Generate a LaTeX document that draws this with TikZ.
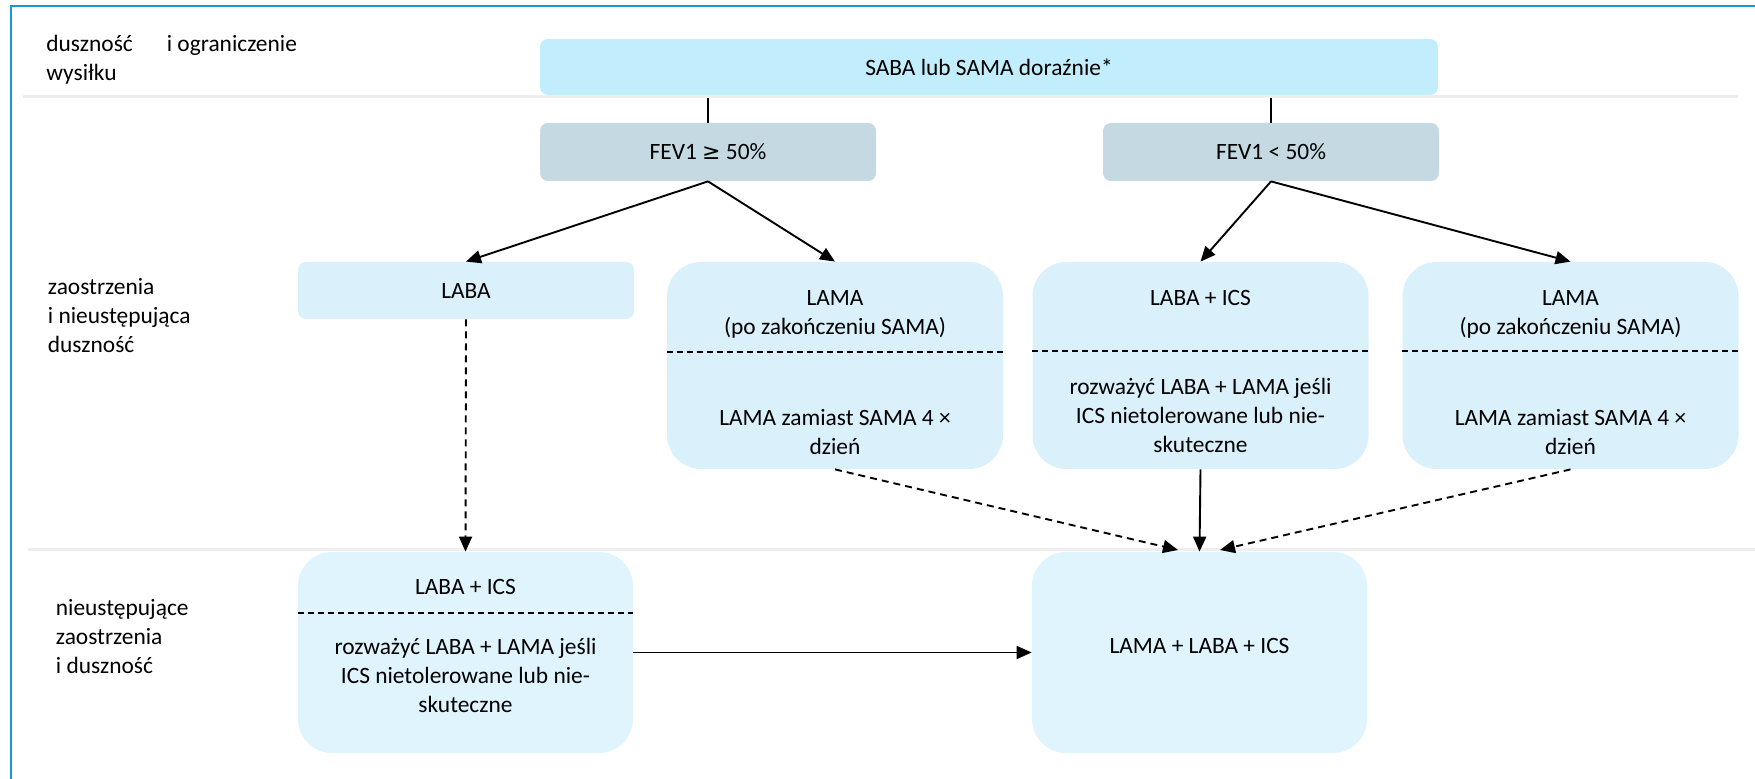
\documentclass[tikz,border=0pt]{standalone}
\usepackage{fontspec}
\setmainfont{Carlito}
\newfontfamily\symfont{DejaVu Sans}
\usetikzlibrary{arrows.meta}
\definecolor{framecol}{HTML}{1A98D0}
\definecolor{sepcol}{HTML}{EEEEEE}
\definecolor{topfill}{HTML}{C1EDFD}
\definecolor{fevfill}{HTML}{C4D9E1}
\definecolor{midfill}{HTML}{DAF0FB}
\definecolor{lowfill}{HTML}{DFF4FD}
\begin{document}
\begin{tikzpicture}[x=0.5pt,y=-0.5pt,
  font=\fontsize{11.7}{14.5}\selectfont,
  smallbox/.style={draw=none, rounded corners=4pt, inner sep=0pt},
  bigbox/.style={draw=none, rounded corners=17pt, inner sep=0pt,
    minimum width=168pt, minimum height=103.5pt, fill=midfill},
  lowbox/.style={draw=none, rounded corners=17pt, inner sep=0pt,
    minimum width=167.5pt, minimum height=100.5pt, fill=lowfill},
  txt/.style={inner sep=0pt, align=center},
  rowlabel/.style={inner sep=0pt, align=left, anchor=west},
  sep/.style={sepcol, line width=1.5pt},
  divider/.style={black, line width=1.1pt, dash pattern=on 3pt off 2pt},
  conn/.style={black, line width=0.8pt},
  arr/.style={black, line width=0.95pt, -{Triangle[length=7.5pt,width=6.5pt]}},
  darr/.style={arr, dash pattern=on 3.5pt off 2.5pt},
]
\useasboundingbox (0,0) rectangle (1755,779);

% outer frame (top and left edges)
\draw[framecol, line width=1.25pt] (11,779) -- (11,6) -- (1755,6);

% row labels
\node[rowlabel] (row1) at (46,60) {duszność\hspace{17pt}i ograniczenie\\wysiłku};
\node[rowlabel] (row2) at (47.5,316) {zaostrzenia\\i nieustępująca\\duszność};
\node[rowlabel] (row3) at (55.5,637) {nieustępujące\\zaostrzenia\\i duszność};

% top row
\node[smallbox, fill=topfill, minimum width=449pt, minimum height=28pt]
  (saba) at (989,67) {};
\node[txt] (saba-t) at (989,67) {SABA lub SAMA doraźnie*};

% FEV1 split
\node[smallbox, fill=fevfill, minimum width=168pt, minimum height=29pt]
  (fevA) at (708,152) {FEV1 {\symfont\fontsize{11}{13}\selectfont ≥} 50\%};
\node[smallbox, fill=fevfill, minimum width=168pt, minimum height=29pt]
  (fevB) at (1271,152) {FEV1 < 50\%};

\draw[conn] (saba.south -| fevA.north) -- (fevA.north);
\draw[conn] (saba.south -| fevB.north) -- (fevB.north);

% row separators
\draw[sep] (23,97) -- (1738,97);
\draw[sep] (28,550) -- (1755,550);

% middle row
\node[smallbox, fill=midfill, minimum width=168pt, minimum height=28.5pt]
  (laba) at (466,290.5) {LABA};

\node[bigbox] (lamaA) at (835,365.5) {};
\node[txt] (lamaA-t1) at (835,314) {LAMA\\(po zakończeniu SAMA)};
\node[txt] (lamaA-t2) at (835,432) {LAMA zamiast SAMA 4 ×\\dzień};
\draw[divider] (lamaA.west |- 0,352) -- (lamaA.east |- 0,352);

\node[bigbox] (labaics) at (1200.5,365.5) {};
\node[txt] (labaics-t1) at (1200.5,298) {LABA + ICS};
\node[txt] (labaics-t2) at (1200.5,415) {rozważyć LABA + LAMA jeśli\\ICS nietolerowane lub nie-\\skuteczne};
\draw[divider] (labaics.west |- 0,351) -- (labaics.east |- 0,351);

\node[bigbox] (lamaB) at (1570.5,365.5) {};
\node[txt] (lamaB-t1) at (1570.5,314) {LAMA\\(po zakończeniu SAMA)};
\node[txt] (lamaB-t2) at (1570.5,432) {LAMA zamiast SAMA 4 ×\\dzień};
\draw[divider] (lamaB.west |- 0,351) -- (lamaB.east |- 0,351);

% bottom row
\node[lowbox] (bl) at (465.5,652.5) {};
\node[txt] (bl-t1) at (465.5,587) {LABA + ICS};
\node[txt] (bl-t2) at (465.5,675) {rozważyć LABA + LAMA jeśli\\ICS nietolerowane lub nie-\\skuteczne};
\draw[divider] (bl.west |- 0,613) -- (bl.east |- 0,613);

\node[lowbox] (br) at (1199.5,652.5) {};
\node[txt] (br-t) at (1199.5,646) {LAMA + LABA + ICS};

% arrow targets on top of the final box
\coordinate (brInL) at (1178,550);
\coordinate (brInR) at (1220,550);

% connectors
\draw[arr] (fevA.south) -- (laba.north);
\draw[arr] (fevA.south) -- (lamaA.north);
\draw[arr] (fevB.south) -- (labaics.north);
\draw[arr] (fevB.south) -- (lamaB.north);

\draw[darr] (laba.south) -- (bl.north);
\draw[darr] (lamaA.south) -- (brInL);
\draw[arr] (labaics.south) -- (br.north);
\draw[darr] (lamaB.south) -- (brInR);
\draw[arr] (bl.east) -- (br.west);
\end{tikzpicture}
\end{document}
